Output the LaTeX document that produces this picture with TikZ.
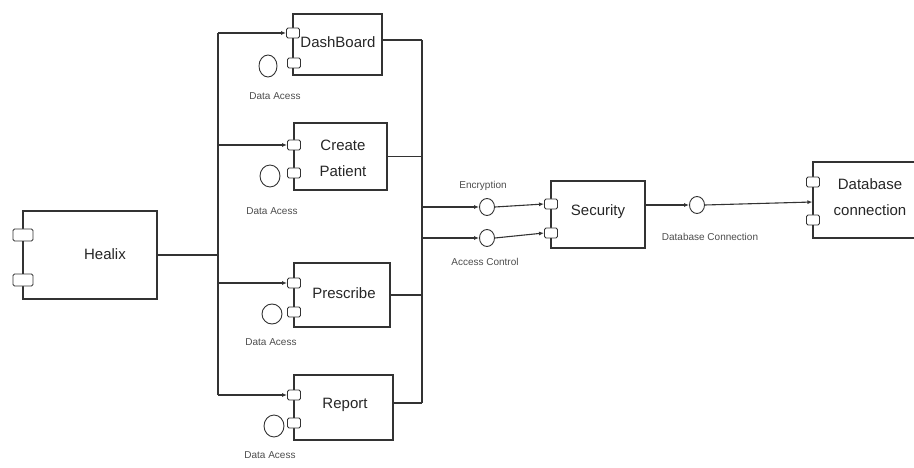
\documentclass[tikz,border=0pt]{standalone}
\usepackage{fontspec}
\setmainfont{Liberation Sans}
\usetikzlibrary{arrows.meta,shapes.geometric}
\begin{document}
\begin{tikzpicture}[x=1pt,y=-1pt,
 ln/.style={draw=black!80, line width=1.1pt},
 comp/.style={ln, rectangle, inner sep=0pt},
 port/.style={ln, line width=0.9pt, rectangle, rounded corners=1.5pt, minimum width=13pt, minimum height=10pt, inner sep=0pt, fill=white},
 iface/.style={ln, line width=0.9pt, ellipse, inner sep=0pt, fill=white},
 title/.style={font=\fontsize{15}{26}\selectfont, text=black!85, align=center, inner sep=0pt},
 lbl/.style={font=\fontsize{10}{11}\selectfont, text=black!70, inner sep=0pt},
 arr/.style={ln, -{Latex[length=5pt,width=4pt]}},
 wire/.style={ln}
]
\useasboundingbox (0,0) rectangle (914,468);
\clip (0,0) rectangle (914,468);

% Healix
\node[comp, minimum width=134pt, minimum height=88pt] (healix) at (90,255) {};
\node[title] (healixT) at (105,254) {Healix};
\node[port, minimum width=20pt, minimum height=12pt] (hp1) at (23,235) {};
\node[port, minimum width=20pt, minimum height=12pt] (hp2) at (23,280) {};

% DashBoard
\node[comp, minimum width=89pt, minimum height=61pt] (dash) at (337.5,44.5) {};
\node[title] (dashT) at (338,42) {DashBoard};
\node[port] (dp1) at (293,33) {};
\node[port] (dp2) at (294,63) {};
\node[iface, minimum width=18pt, minimum height=22pt] (di) at (268,66) {};
\node[lbl] (dl) at (275,96) {Data Acess};

% Create Patient
\node[comp, minimum width=93pt, minimum height=67pt] (create) at (340.5,156.5) {};
\node[title] (createT) at (343,158) {Create\\Patient};
\node[port] (cp1) at (294,145) {};
\node[port] (cp2) at (294,173) {};
\node[iface, minimum width=20pt, minimum height=22pt] (ci) at (270,176) {};
\node[lbl] (cl) at (272,211) {Data Acess};

% Prescribe
\node[comp, minimum width=96pt, minimum height=64pt] (presc) at (342,295) {};
\node[title] (prescT) at (344,293) {Prescribe};
\node[port] (pp1) at (294,283) {};
\node[port] (pp2) at (294,312) {};
\node[iface, minimum width=20pt, minimum height=20pt] (pi) at (272,314) {};
\node[lbl] (pl) at (271,342) {Data Acess};

% Report
\node[comp, minimum width=99pt, minimum height=65pt] (report) at (343.5,407.5) {};
\node[title] (reportT) at (345,405) {Report};
\node[port] (rp1) at (294,395) {};
\node[port] (rp2) at (294,423) {};
\node[iface, minimum width=20pt, minimum height=22pt] (ri) at (274,426) {};
\node[lbl] (rl) at (270,455) {Data Acess};

% bus coordinates
\coordinate (lbus) at (218,0);
\coordinate (rbus) at (422,0);

% left bus
\draw[wire] (healix.east) -- (healix.east -| lbus);
\draw[wire] (dp1.west -| lbus) -- (rp1.west -| lbus);
\draw[arr] (dp1.west -| lbus) -- (dp1.west);
\draw[arr] (cp1.west -| lbus) -- (cp1.west);
\draw[arr] (pp1.west -| lbus) -- (pp1.west);
\draw[arr] (rp1.west -| lbus) -- (rp1.west);

% right bus
\coordinate (dR) at ([yshift=4.5pt]dash.east);
\coordinate (rR) at ([yshift=4.5pt]report.east);
\draw[wire] (dR) -- (dR -| rbus);
\draw[wire] (create.east) -- (create.east -| rbus);
\draw[wire] (presc.east) -- (presc.east -| rbus);
\draw[wire] (rR) -- (rR -| rbus);
\draw[wire] (dR -| rbus) -- (rR -| rbus);

% Security
\node[comp, minimum width=94pt, minimum height=67pt] (sec) at (598,214.5) {};
\node[title] (secT) at (598,212) {Security};
\node[port] (sp1) at (551,204) {};
\node[port] (sp2) at (551,233) {};
\node[iface, minimum width=15pt, minimum height=17pt] (enc) at (487,207) {};
\node[iface, minimum width=15pt, minimum height=17pt] (acc) at (487,238) {};
\node[lbl] (encL) at (483,186) {Encryption};
\node[lbl] (accL) at (485,262) {Access Control};
\draw[arr] (enc.west -| rbus) -- (enc.west);
\draw[arr] (acc.west -| rbus) -- (acc.west);
\draw[arr] (enc.east) -- (sp1.west);
\draw[arr] (acc.east) -- (sp2.west);

% Database connection
\node[comp, minimum width=112pt, minimum height=76pt] (db) at (869,200) {};
\node[title] (dbT) at (870,197.5) {Database\\connection};
\node[port] (bp1) at (813,182) {};
\node[port] (bp2) at (813,220) {};
\node[iface, minimum width=15pt, minimum height=17pt] (dbi) at (697,205) {};
\node[lbl] (dbL) at (710,237) {Database Connection};
\draw[arr] (sec.east |- dbi.west) -- (dbi.west);
\draw[arr] (dbi.east) -- ([yshift=-2pt]db.west);
\end{tikzpicture}
\end{document}
